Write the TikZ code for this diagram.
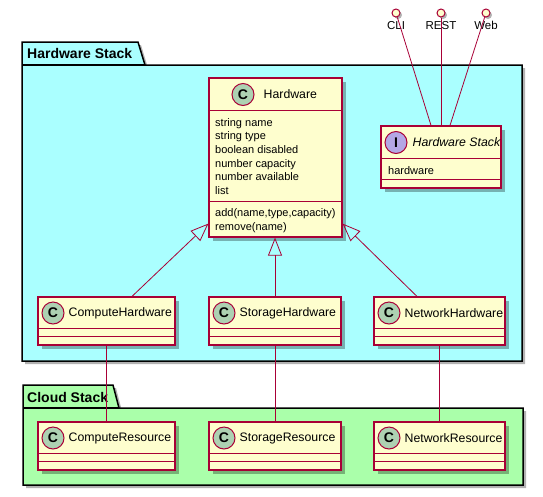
\documentclass[tikz,border=0pt]{standalone}
\usepackage{fontspec}
\setsansfont{Liberation Sans}
\usepackage{xcolor}
\usepackage{tikz}
\usetikzlibrary{calc}
\usetikzlibrary{positioning}
\usetikzlibrary{arrows.meta}
\usetikzlibrary{shadows}

\definecolor{umlred}{HTML}{A80036}
\definecolor{umlfill}{HTML}{FEFECE}
\definecolor{badgec}{HTML}{ADD1B2}
\definecolor{badgei}{HTML}{B4A7E5}
\definecolor{hwcyan}{HTML}{AAFFFF}
\definecolor{cloudgreen}{HTML}{AAFFAA}

\begin{document}
\begin{tikzpicture}[
    x = 1pt,
    y = -1pt,
    font = \sffamily,
    pkgf/.style = {
      draw=black,
      line width=1.5pt,
      drop shadow={shadow xshift=3pt, shadow yshift=-3pt, fill=black, opacity=.3}
    },
    pkgtitlef/.style = {
      anchor=base west,
      inner sep=0pt,
      font=\sffamily\bfseries\fontsize{14}{16}\selectfont
    },
    classf/.style = {
      rectangle,
      draw=umlred,
      fill=umlfill,
      line width=1.2pt,
      inner sep=0pt,
      drop shadow={shadow xshift=4pt, shadow yshift=-4pt, fill=black, opacity=.3}
    },
    badgef/.style = {
      circle,
      draw=umlred,
      fill=badgec,
      line width=1pt,
      minimum size=22pt,
      inner sep=0pt,
      font=\sffamily\bfseries\fontsize{14}{14}\selectfont
    },
    titlef/.style = {
      inner sep=0pt,
      font=\sffamily\fontsize{12.3}{14}\selectfont
    },
    membf/.style = {
      anchor=base west,
      inner sep=0pt,
      align=left,
      font=\sffamily\fontsize{11}{13.7}\selectfont
    },
    sepf/.style = {
      draw=umlred,
      line width=1.2pt
    },
    lollif/.style = {
      circle,
      draw=umlred,
      fill=umlfill,
      line width=1pt,
      minimum size=8pt,
      inner sep=0pt,
      drop shadow={shadow xshift=2pt, shadow yshift=-2pt, fill=black, opacity=.3}
    },
    lblf/.style = {
      inner sep=0pt,
      font=\sffamily\fontsize{11.5}{13}\selectfont
    },
    extf/.style = {
      draw=umlred,
      line width=.8pt,
      -{Triangle[open, length=18pt, width=14pt]}
    },
    linkf/.style = {
      draw=umlred,
      line width=.8pt
    }
  ]
    \useasboundingbox (0,0) rectangle (543,496);

    % packages
    \draw[pkgf, fill=hwcyan] (22,42) -- (138,42) -- (145,65) -- (522,65) -- (522,361) -- (22,361) -- cycle;
    \draw[line width=1.5pt] (22,65) -- (145,65);
    \node[pkgtitlef] (hwpkg) at (27,58) {Hardware Stack};

    \draw[pkgf, fill=cloudgreen] (23,385) -- (113,385) -- (119,408) -- (523,408) -- (523,485) -- (23,485) -- cycle;
    \draw[line width=1.5pt] (23,408) -- (119,408);
    \node[pkgtitlef] (cloudpkg) at (27,402) {Cloud Stack};

    % Hardware
    \node[classf, minimum width=133pt, minimum height=159pt] (hw) at (275.5,157.5) {};
    \draw[sepf] ([yshift=-33pt]hw.north west) -- ([yshift=-33pt]hw.north east);
    \draw[sepf] ([yshift=-124pt]hw.north west) -- ([yshift=-124pt]hw.north east);
    \node[badgef] (hwbadge) at (243,94.5) {C};
    \node[titlef, right=9pt of hwbadge] (hwtitle) {Hardware};
    \node[membf] (hwattr) at (215,194.5) {string name\\string type\\boolean disabled\\number capacity\\number available\\list};
    \node[membf] (hwops) at (215,230.5) {add(name,type,capacity)\\remove(name)};

    % interface
    \node[classf, minimum width=120pt, minimum height=62pt] (hwstack) at (441,157) {};
    \draw[sepf] ([yshift=-33pt]hwstack.north west) -- ([yshift=-33pt]hwstack.north east);
    \draw[sepf] ([yshift=-54pt]hwstack.north west) -- ([yshift=-54pt]hwstack.north east);
    \node[badgef, fill=badgei] (stackbadge) at (396,142.5) {I};
    \node[titlef, font=\sffamily\itshape\fontsize{12.3}{14}\selectfont, right=5pt of stackbadge] (stacktitle) {Hardware Stack};
    \node[membf] (stackattr) at (388,174) {hardware};

    \node[lollif] (cli) at (396,13) {};
    \node[lblf, below=3.5pt of cli] (clilbl) {CLI};
    \node[lollif] (rest) at (441,13) {};
    \node[lblf, below=3.5pt of rest] (restlbl) {REST};
    \node[lollif] (web) at (486,13) {};
    \node[lblf, below=3.5pt of web] (weblbl) {Web};

    % hardware kinds
    \node[classf, minimum width=137pt, minimum height=48pt] (comp) at (106.5,321) {};
    \draw[sepf] ([yshift=-32pt]comp.north west) -- ([yshift=-32pt]comp.north east);
    \draw[sepf] ([yshift=-40pt]comp.north west) -- ([yshift=-40pt]comp.north east);
    \node[badgef] (compbadge) at (53,313) {C};
    \node[titlef, right=4pt of compbadge] (comptitle) {ComputeHardware};

    \node[classf, minimum width=132pt, minimum height=48pt] (stor) at (275,321) {};
    \draw[sepf] ([yshift=-32pt]stor.north west) -- ([yshift=-32pt]stor.north east);
    \draw[sepf] ([yshift=-40pt]stor.north west) -- ([yshift=-40pt]stor.north east);
    \node[badgef] (storbadge) at (224,313) {C};
    \node[titlef, right=4pt of storbadge] (stortitle) {StorageHardware};

    \node[classf, minimum width=131pt, minimum height=48pt] (net) at (439.5,321) {};
    \draw[sepf] ([yshift=-32pt]net.north west) -- ([yshift=-32pt]net.north east);
    \draw[sepf] ([yshift=-40pt]net.north west) -- ([yshift=-40pt]net.north east);
    \node[badgef] (netbadge) at (389,313) {C};
    \node[titlef, right=4pt of netbadge] (nettitle) {NetworkHardware};

    % resources
    \node[classf, minimum width=137pt, minimum height=48pt] (compres) at (106.5,446) {};
    \draw[sepf] ([yshift=-32pt]compres.north west) -- ([yshift=-32pt]compres.north east);
    \draw[sepf] ([yshift=-40pt]compres.north west) -- ([yshift=-40pt]compres.north east);
    \node[badgef] (compresbadge) at (53,438) {C};
    \node[titlef, right=4pt of compresbadge] (comprestitle) {ComputeResource};

    \node[classf, minimum width=132pt, minimum height=48pt] (storres) at (275,446) {};
    \draw[sepf] ([yshift=-32pt]storres.north west) -- ([yshift=-32pt]storres.north east);
    \draw[sepf] ([yshift=-40pt]storres.north west) -- ([yshift=-40pt]storres.north east);
    \node[badgef] (storresbadge) at (224,438) {C};
    \node[titlef, right=4pt of storresbadge] (storrestitle) {StorageResource};

    \node[classf, minimum width=131pt, minimum height=48pt] (netres) at (439.5,446) {};
    \draw[sepf] ([yshift=-32pt]netres.north west) -- ([yshift=-32pt]netres.north east);
    \draw[sepf] ([yshift=-40pt]netres.north west) -- ([yshift=-40pt]netres.north east);
    \node[badgef] (netresbadge) at (389,438) {C};
    \node[titlef, right=4pt of netresbadge] (netrestitle) {NetworkResource};

    % connectors
    \draw[linkf] (cli) -- ([xshift=-10pt]hwstack.north);
    \draw[linkf] (rest) -- (hwstack.north);
    \draw[linkf] (web) -- ([xshift=9pt]hwstack.north);

    \draw[extf] ([xshift=25.5pt]comp.north) -- ([yshift=14pt]hw.south west);
    \draw[extf] (stor.north) -- (stor.north |- hw.south);
    \draw[extf] ([xshift=-22.5pt]net.north) -- ([yshift=14pt]hw.south east);

    \draw[linkf] (comp) -- (compres);
    \draw[linkf] (stor) -- (storres);
    \draw[linkf] (net) -- (netres);
  \end{tikzpicture}
\end{document}
